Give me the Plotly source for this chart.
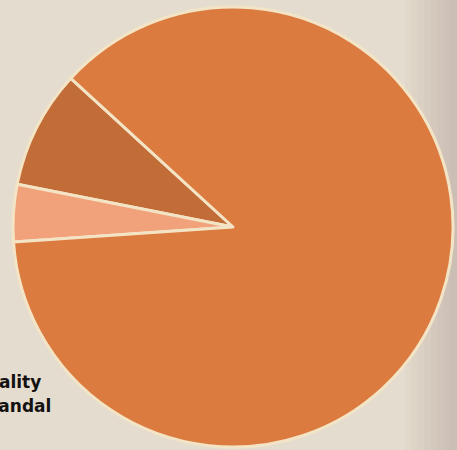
import plotly.graph_objects as go

# Data (counter-clockwise from the upper-left cut)
categories = ["Scandal-dark", "Morality-light", "Other"]
values = [8.7, 4.2, 87.1]
slice_colors = ["#C26C38", "#F1A27A", "#DC7B3F"]
label_texts = ["Morality", "Scandal"]

W, H = 457, 450
cx, cy, r = 233, 227, 220

fig = go.Figure(go.Pie(
    labels=categories,
    values=values,
    sort=False,
    direction="counterclockwise",
    rotation=-78.8,
    textinfo="none",
    hoverinfo="label+percent",
    marker=dict(colors=slice_colors, line=dict(color="#F4E4C6", width=3)),
    domain=dict(x=[(cx - r) / W, (cx + r) / W], y=[(H - cy - r) / H, (H - cy + r) / H]),
    showlegend=False,
))

# soft darker band toward the right edge
n = 8
for i in range(n):
    x0 = 405 + i * 52 / n
    fig.add_shape(type="rect", xref="paper", yref="paper", x0=x0 / W, x1=1, y0=0, y1=1,
                  fillcolor="rgba(140,125,105,0.035)", line=dict(width=0), layer="below")

label_right = [43, 53]
label_mid_y = [382, 406]
for t, xr, ym in zip(label_texts, label_right, label_mid_y):
    fig.add_annotation(text=f"<b>{t}</b>", xref="paper", yref="paper",
                       x=xr / W, y=1 - ym / H, xanchor="right", yanchor="middle",
                       showarrow=False,
                       font=dict(family="DejaVu Sans, Verdana, sans-serif", size=17, color="#141210"))

fig.update_layout(
    width=W, height=H,
    margin=dict(l=0, r=0, t=0, b=0),
    paper_bgcolor="#E4DCCE",
    plot_bgcolor="#E4DCCE",
)

fig.write_html("out.html")
